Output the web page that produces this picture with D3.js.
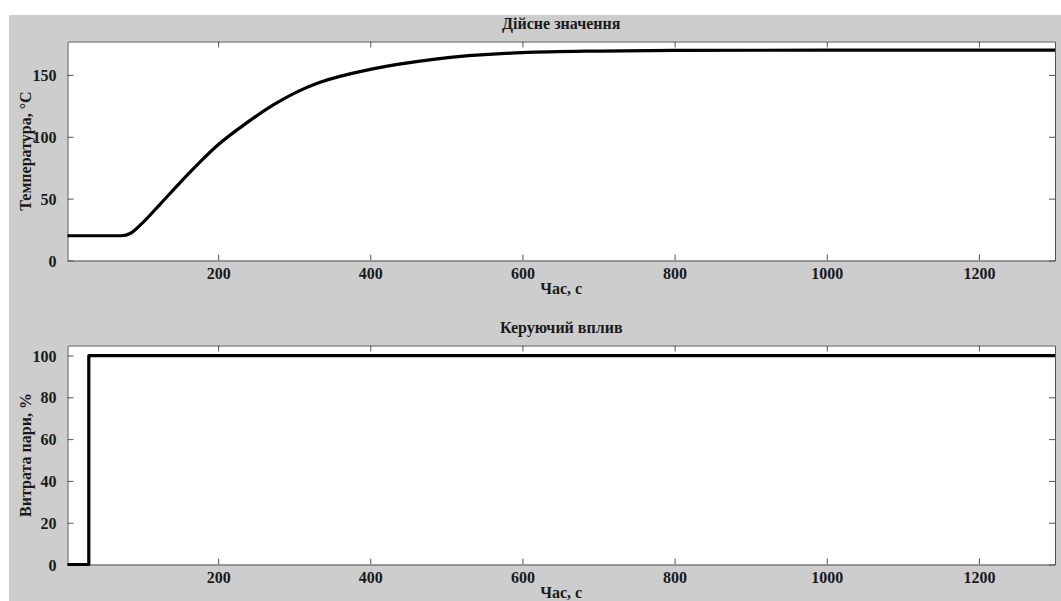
<!DOCTYPE html>
<html>
<head>
<meta charset="utf-8">
<script src="https://cdn.jsdelivr.net/npm/d3@7"></script>
<style>
  body { margin: 0; background: #fff; }
  text { font-family: "Liberation Serif", "Times New Roman", serif; font-weight: bold; fill: #1a1a1a; }
</style>
</head>
<body>
<div id="chart"></div>
<script>
// data
const tempTime  = [0, 73, 85, 100, 123, 150, 176, 200, 237, 272, 308, 334, 400, 483, 600, 702, 800, 1000, 1300];
const tempValue = [20, 20, 22, 30, 45, 63, 79.5, 93.5, 111, 125.5, 137.5, 144, 154.5, 162.6, 168, 169.3, 169.8, 170, 170];

const ctrlTime  = [0, 30, 1300];
const ctrlValue = [0, 100, 100];

const xTicks = [200, 400, 600, 800, 1000, 1200];
const tempTicks = [0, 50, 100, 150];
const ctrlTicks = [0, 20, 40, 60, 80, 100];

const width = 1061, height = 601;

const svg = d3.select("#chart")
    .append("svg")
    .attr("width", width)
    .attr("height", height);

// grey figure background
svg.append("rect")
    .attr("x", 9).attr("y", 15)
    .attr("width", width - 9).attr("height", height - 15)
    .attr("fill", "#cdcdcd");

function panel(opts) {
    const left = 67.5, right = 1055;
    const xScale = d3.scaleLinear().domain([2, 1300]).range([left, right]);
    const yScale = d3.scaleLinear().domain(opts.yDomain).range([opts.bottom, opts.top]);

    const g = svg.append("g");

    g.append("rect")
        .attr("x", left).attr("y", opts.top)
        .attr("width", right - left).attr("height", opts.bottom - opts.top)
        .attr("fill", "#fff");

    const clipId = "clip" + opts.id;
    g.append("clipPath").attr("id", clipId)
        .append("rect")
        .attr("x", left).attr("y", opts.top - 2)
        .attr("width", right - left).attr("height", opts.bottom - opts.top + 4);

    // inward ticks on all four sides
    const tickLen = 6;
    const axisColor = "#555";
    const fmt = d3.format("d");
    const xb = g.append("g").attr("transform", `translate(0,${opts.bottom})`)
        .call(d3.axisBottom(xScale).tickValues(xTicks).tickFormat(fmt).tickSizeInner(-tickLen).tickSizeOuter(0).tickPadding(7));
    const xt = g.append("g").attr("transform", `translate(0,${opts.top})`)
        .call(d3.axisTop(xScale).tickValues(xTicks).tickSizeInner(-tickLen).tickSizeOuter(0).tickFormat(""));
    const yl = g.append("g").attr("transform", `translate(${left},0)`)
        .call(d3.axisLeft(yScale).tickValues(opts.yTicks).tickFormat(fmt).tickSizeInner(-tickLen).tickSizeOuter(0).tickPadding(11));
    const yr = g.append("g").attr("transform", `translate(${right},0)`)
        .call(d3.axisRight(yScale).tickValues(opts.yTicks).tickSizeInner(-tickLen).tickSizeOuter(0).tickFormat(""));

    [xb, xt, yl, yr].forEach(function(a) {
        a.select(".domain").attr("stroke", axisColor).attr("stroke-width", 1);
        a.selectAll(".tick line").attr("stroke", axisColor);
        a.selectAll("text").attr("font-size", 16).attr("font-family", null).attr("fill", "#1a1a1a");
    });
    yl.selectAll("text").attr("dy", "0.35em");

    const line = d3.line()
        .x(function(d) { return xScale(d[0]); })
        .y(function(d) { return yScale(d[1]); })
        .curve(opts.curve);

    g.append("path")
        .datum(d3.zip(opts.time, opts.value))
        .attr("clip-path", `url(#${clipId})`)
        .attr("fill", "none")
        .attr("stroke", "#000")
        .attr("stroke-width", 3.2)
        .attr("stroke-linejoin", "round")
        .attr("d", line);

    // titles and labels
    g.append("text")
        .attr("x", (left + right) / 2)
        .attr("y", opts.top - 18)
        .attr("dy", "0.35em")
        .attr("text-anchor", "middle")
        .attr("font-size", 16)
        .text(opts.title);

    g.append("text")
        .attr("x", (left + right) / 2)
        .attr("y", opts.bottom + 28)
        .attr("dy", "0.35em")
        .attr("text-anchor", "middle")
        .attr("font-size", 16)
        .text("Час, с");

    g.append("text")
        .attr("transform", `translate(25,${(opts.top + opts.bottom) / 2}) rotate(-90)`)
        .attr("dy", "0.35em")
        .attr("text-anchor", "middle")
        .attr("font-size", 16)
        .text(opts.yLabel);
}

panel({
    id: 1, top: 41.5, bottom: 260.5, yDomain: [0, 177],
    yTicks: tempTicks, time: tempTime, value: tempValue,
    curve: d3.curveMonotoneX,
    title: "Дійсне значення", yLabel: "Температура, °C"
});

panel({
    id: 2, top: 345.5, bottom: 564.5, yDomain: [0, 104.8],
    yTicks: ctrlTicks, time: ctrlTime, value: ctrlValue,
    curve: d3.curveStepAfter,
    title: "Керуючий вплив", yLabel: "Витрата пари, %"
});
</script>
</body>
</html>
